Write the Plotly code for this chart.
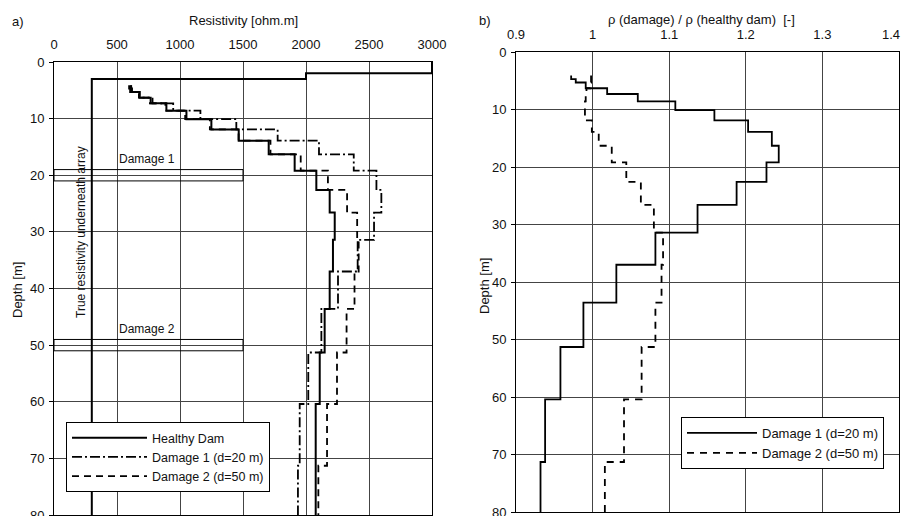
import plotly.graph_objects as go

# ---------------- data ----------------
# top depth (m) of each inversion layer; curves run to the bottom of the plot
layer_top = [4.1, 4.7, 5.3, 6.3, 7.3, 8.6, 10.1, 11.9, 13.9, 16.3, 19.2,
             22.6, 26.6, 31.4, 37.0, 43.6, 51.3, 60.4, 71.3]
bottom_depth = 80

# a) inverted resistivity (ohm.m)
healthy = [612, 618, 680, 767, 892, 1051, 1249, 1466, 1704, 1910, 2082,
           2188, 2228, 2214, 2188, 2148, 2109, 2077, 2077]
damage1 = [596, 604, 674, 782, 946, 1162, 1447, 1775, 2103, 2379, 2559,
           2598, 2540, 2410, 2254, 2122, 2018, 1950, 1936]
damage2 = [611, 617, 678, 761, 884, 1041, 1237, 1465, 1718, 1958, 2174,
           2326, 2406, 2418, 2385, 2322, 2246, 2167, 2098]

# true resistivity model underneath the array
true_top = [0, 2, 3]
true_res = [3000, 2000, 300]

# damage zones (depth ranges, m) and their lateral extent (ohm.m axis)
damage_zone_names = ["Damage 1", "Damage 2"]
damage_zone_top = [19, 49]
damage_zone_bottom = [21, 51]
damage_zone_extent = [0, 1500]

# b) resistivity ratio damage / healthy
ratio1 = [0.972, 0.978, 0.991, 1.019, 1.059, 1.108, 1.159, 1.203, 1.234, 1.243,
          1.227, 1.188, 1.137, 1.082, 1.031, 0.988, 0.958, 0.938, 0.932]
ratio2 = [0.998, 0.998, 0.997, 0.992, 0.991, 0.990, 0.990, 0.999, 1.008, 1.025,
          1.044, 1.063, 1.080, 1.092, 1.090, 1.082, 1.064, 1.041, 1.016]

res_ticks = [0, 500, 1000, 1500, 2000, 2500, 3000]
ratio_ticks = [0.9, 1.0, 1.1, 1.2, 1.3, 1.4]
ratio_ticktext = ["0.9", "1", "1.1", "1.2", "1.3", "1.4"]
depth_ticks = [0, 10, 20, 30, 40, 50, 60, 70, 80]

# ---------------- figure ----------------
# the page body has an 8px margin: figure fills the rest of the 909x516 window
OFF = 8
W, H = 909 - OFF, 516 - OFF
FONT = "Arial, Liberation Sans, sans-serif"
TXT = "#111111"

def px_x(p):  # window pixel -> paper fraction
    return (p - OFF) / W

def px_y(p):
    return 1 - (p - OFF) / H

def steps(vals, tops):
    return list(vals) + [vals[-1]], list(tops) + [bottom_depth]

fig = go.Figure()

# left panel: true model
tx, ty = steps(true_res, true_top)
fig.add_trace(go.Scatter(x=tx, y=ty, mode="lines", line=dict(color="black", width=2, shape="vh"),
                         showlegend=False, hoverinfo="skip", xaxis="x", yaxis="y"))

for name, vals, dash, w in [("Healthy Dam", healthy, "solid", 2),
                            ("Damage 1 (d=20 m)", damage1, "10px,3px,2px,3px", 1.8),
                            ("Damage 2 (d=50 m)", damage2, "7px,5px", 1.8)]:
    x, y = steps(vals, layer_top)
    fig.add_trace(go.Scatter(x=x, y=y, mode="lines", name=name,
                             line=dict(color="black", width=w, dash=dash, shape="vh"),
                             xaxis="x", yaxis="y", legend="legend"))

for name, vals, dash in [("Damage 1 (d=20 m)", ratio1, "solid"),
                         ("Damage 2 (d=50 m)", ratio2, "7px,6px")]:
    x, y = steps(vals, layer_top)
    fig.add_trace(go.Scatter(x=x, y=y, mode="lines", name=name,
                             line=dict(color="black", width=1.8, dash=dash, shape="vh"),
                             xaxis="x2", yaxis="y2", legend="legend2"))

# damage zone rectangles + labels
for nm, t, b in zip(damage_zone_names, damage_zone_top, damage_zone_bottom):
    fig.add_shape(type="rect", xref="x", yref="y", x0=damage_zone_extent[0], x1=damage_zone_extent[1],
                  y0=t, y1=b, line=dict(color="black", width=1), fillcolor="rgba(0,0,0,0)")
    fig.add_annotation(xref="x", yref="y", x=500, y=t - 0.3, text=nm, showarrow=False,
                       xanchor="left", yanchor="bottom", font=dict(size=12, color=TXT, family=FONT))

fig.add_annotation(xref="x", yref="y", x=215, y=30, text="True resistivity underneath array",
                   showarrow=False, textangle=-90, font=dict(size=12, color=TXT, family=FONT))

# panel labels & axis titles (window pixel positions)
ann = [
    ("a)", 18, 22, 0),
    ("Resistivity [ohm.m]", 243, 21, 0),
    ("b)", 485, 21, 0),
    ("\u03c1 (damage) / \u03c1 (healthy dam)  [-]", 701, 20, 0),
    ("Depth [m]", 17, 290, -90),
    ("Depth [m]", 484, 286, -90),
]
for t, x, y, ang in ann:
    fig.add_annotation(xref="paper", yref="paper", x=px_x(x), y=px_y(y), text=t, showarrow=False,
                       textangle=ang, xanchor="center", yanchor="middle",
                       font=dict(size=13, color=TXT, family=FONT))

# the last ratio tick label sits on the page edge: draw it right-aligned so it stays whole
tt2 = list(ratio_ticktext)
edge_label = tt2[-1]
tt2[-1] = ""
fig.add_annotation(xref="x2", yref="paper", x=ratio_ticks[-1], y=px_y(34), text=edge_label,
                   showarrow=False, xanchor="right", yanchor="middle", xshift=3,
                   font=dict(size=13, color=TXT, family=FONT))

grid = "#444444"
common_x = dict(side="top", showgrid=True, gridcolor=grid, gridwidth=1, showline=True, linecolor="black",
                linewidth=1, mirror=True, ticks="", zeroline=False, automargin=False,
                ticklabeloverflow="allow",
                tickfont=dict(size=13, color=TXT, family=FONT), ticklabelstandoff=7)
common_y = dict(showgrid=True, gridcolor=grid, gridwidth=1, showline=True, linecolor="black",
                linewidth=1, mirror=True, ticks="outside", ticklen=4, tickcolor="black", zeroline=False,
                automargin=False, ticklabeloverflow="allow",
                tickfont=dict(size=13, color=TXT, family=FONT), tickvals=depth_ticks,
                ticklabelstandoff=2)

fig.update_layout(
    width=W, height=H, margin=dict(l=0, r=0, t=0, b=0, autoexpand=False),
    paper_bgcolor="white", plot_bgcolor="white",
    xaxis=dict(domain=[px_x(54), px_x(432)], range=[res_ticks[0], res_ticks[-1]], tickvals=res_ticks,
               anchor="y", **common_x),
    yaxis=dict(domain=[px_y(515), px_y(62)], range=[80, 0], anchor="x", **common_y),
    xaxis2=dict(domain=[px_x(516), px_x(899)], range=[ratio_ticks[0], ratio_ticks[-1]], tickvals=ratio_ticks,
                ticktext=tt2, anchor="y2", **common_x),
    yaxis2=dict(domain=[px_y(512), px_y(52)], range=[80, 0], anchor="x2", **common_y),
    legend=dict(x=px_x(66), y=px_y(422), xanchor="left", yanchor="top", bgcolor="white",
                bordercolor="black", borderwidth=1, font=dict(size=12.5, color=TXT, family=FONT),
                itemwidth=75, tracegroupgap=0),
    legend2=dict(x=px_x(681), y=px_y(417), xanchor="left", yanchor="top", bgcolor="white",
                 bordercolor="black", borderwidth=1, font=dict(size=13, color=TXT, family=FONT),
                 itemwidth=70, tracegroupgap=0),
    showlegend=True,
)

fig.write_html("out.html")
